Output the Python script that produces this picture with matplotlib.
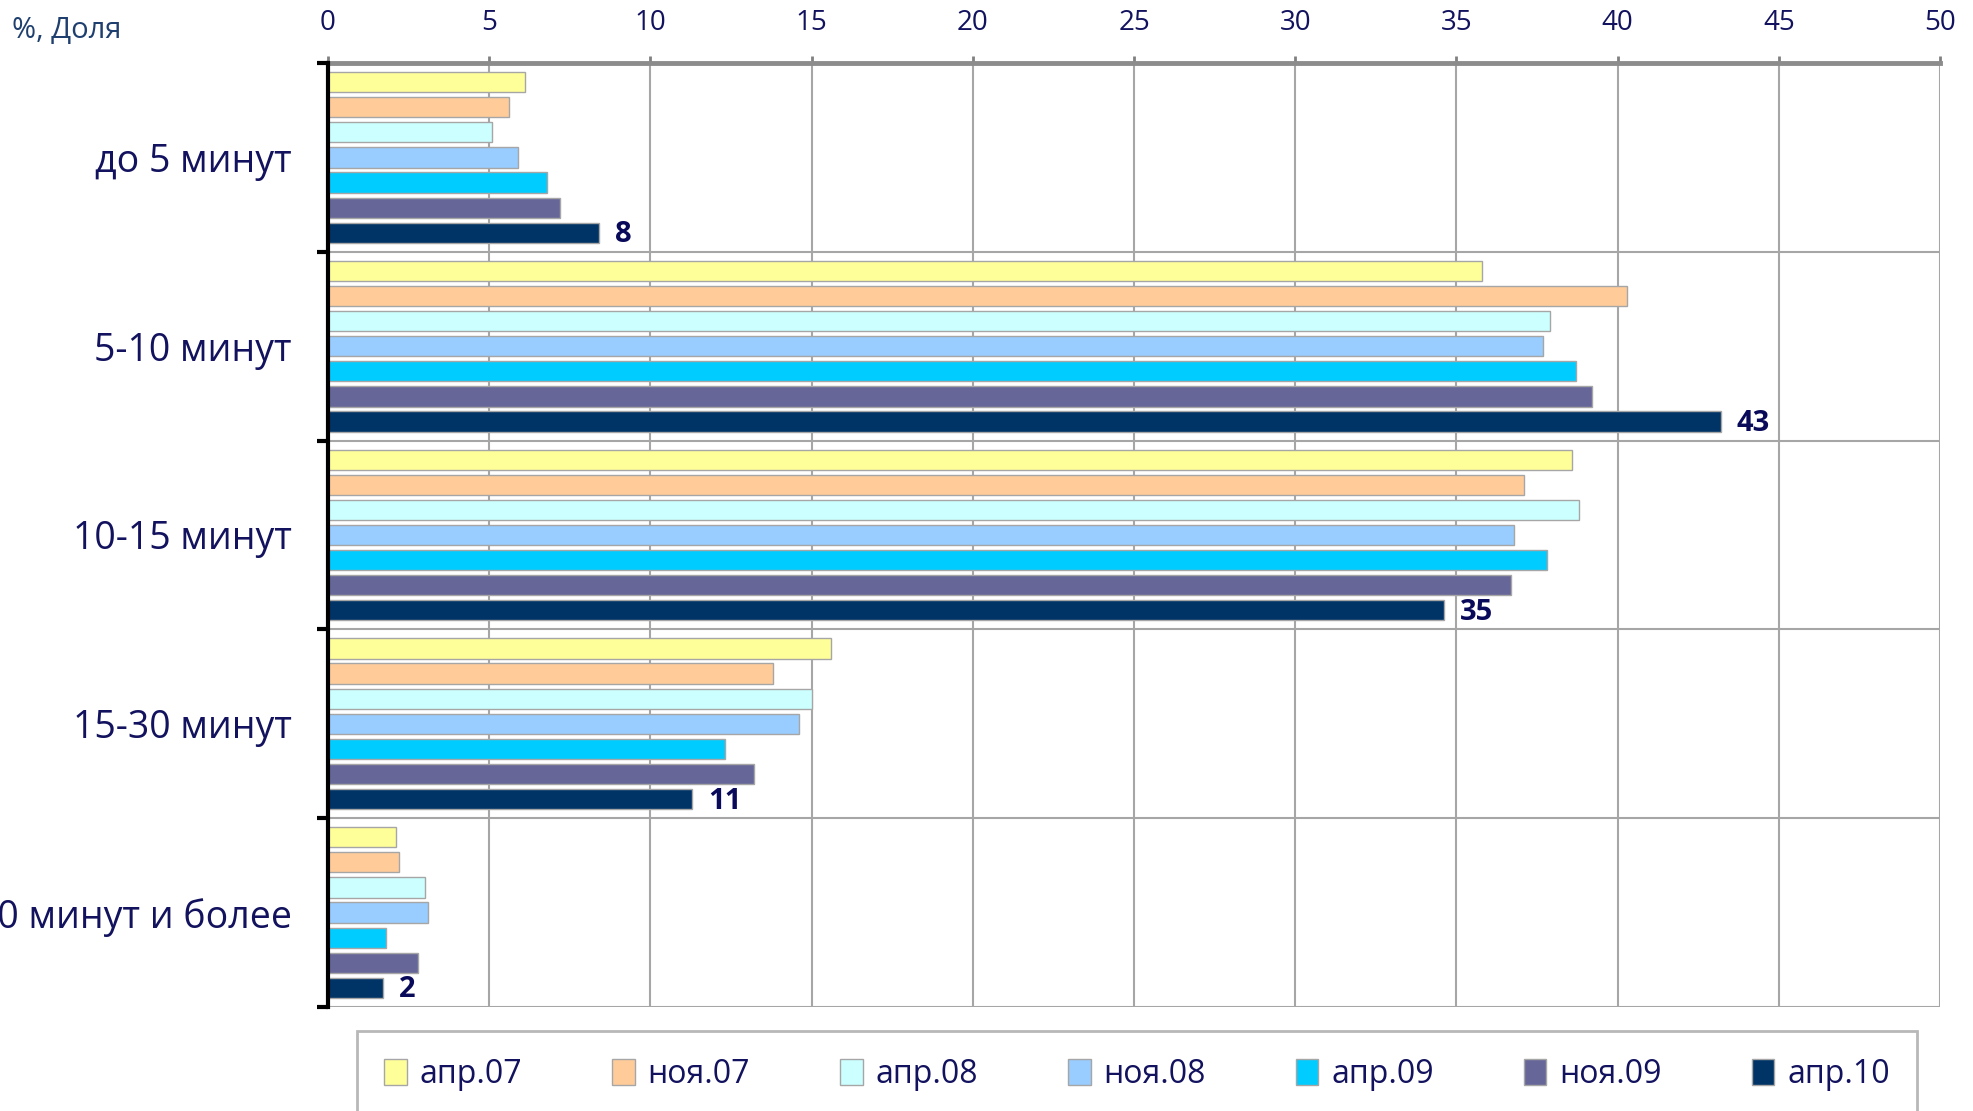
import numpy as np
import matplotlib.pyplot as plt

plt.rcParams['font.family'] = ['Open Sans', 'DejaVu Sans']

# categories (top to bottom) and survey waves
categories = ["до 5 минут", "5-10 минут", "10-15 минут", "15-30 минут", "30 минут и более"]
series_names = ["апр.07", "ноя.07", "апр.08", "ноя.08", "апр.09", "ноя.09", "апр.10"]

apr07 = [6.1, 35.8, 38.6, 15.6, 2.1]
nov07 = [5.6, 40.3, 37.1, 13.8, 2.2]
apr08 = [5.1, 37.9, 38.8, 15.0, 3.0]
nov08 = [5.9, 37.7, 36.8, 14.6, 3.1]
apr09 = [6.8, 38.7, 37.8, 12.3, 1.8]
nov09 = [7.2, 39.2, 36.7, 13.2, 2.8]
apr10 = [8.4, 43.2, 34.6, 11.3, 1.7]

series = [apr07, nov07, apr08, nov08, apr09, nov09, apr10]
colors = ["#FFFF99", "#FFCC99", "#CCFFFF", "#99CCFF", "#00CCFF", "#666699", "#003366"]
text_col = "#12125E"

fig = plt.figure(figsize=(19.74, 11.11), dpi=100)
ax = fig.add_axes([328 / 1974, 1 - 1007 / 1111, (1940 - 328) / 1974, (1007 - 63) / 1111])

n_cat = len(categories)
n_ser = len(series)
step = 0.133
bar_h = 0.107
centers = np.arange(n_cat) + 0.5

for j, (vals, col, name) in enumerate(zip(series, colors, series_names)):
    ypos = centers + (j - (n_ser - 1) / 2) * step
    ax.barh(ypos, vals, height=bar_h, color=col, edgecolor="#A6A6A6", linewidth=1,
            label=name, zorder=3)
    if j == n_ser - 1:
        for y, v in zip(ypos, vals):
            ax.text(v + 0.5, y + 0.01, f"{v:.0f}", ha="left", va="center",
                    fontsize=21, fontweight="bold", color="#0A0A5A", zorder=4)

ax.set_xlim(0, 50)
ax.set_ylim(n_cat, 0)

# x axis on top
ax.xaxis.tick_top()
ax.set_xticks(np.arange(0, 51, 5))
ax.tick_params(axis="x", colors="#808080", length=5, width=2, pad=14,
               labelsize=20, labelcolor=text_col)

# y axis: ticks at group boundaries, labels at centres
ax.set_yticks(np.arange(n_cat + 1))
ax.set_yticklabels([])
ax.set_yticks(centers, minor=True)
ax.set_yticklabels(categories, minor=True, fontsize=27, color=text_col)
ax.tick_params(axis="y", which="major", length=8, width=3, color="black")
ax.tick_params(axis="y", which="minor", length=0, pad=26)

# grid
for x in np.arange(5, 51, 5):
    ax.axvline(x, color="#A6A6A6", lw=1.5, zorder=1)
for y in range(1, n_cat + 1):
    ax.axhline(y, color="#A6A6A6", lw=1.5, zorder=1)

for side in ["right", "bottom"]:
    ax.spines[side].set_visible(False)
ax.spines["top"].set_color("#8C8C8C")
ax.spines["top"].set_linewidth(3.5)
ax.spines["left"].set_color("black")
ax.spines["left"].set_linewidth(3)
ax.spines["left"].set_zorder(5)

fig.text(12 / 1974, 1 - 30 / 1111, "%, Доля", fontsize=21, color="#1F3F6F",
         ha="left", va="center")

leg = fig.legend(loc="upper left",
                 bbox_to_anchor=(357 / 1974, 1 - 1032 / 1111, (1917 - 357) / 1974, 0.001),
                 mode="expand", ncol=n_ser, fontsize=23, frameon=True, fancybox=False,
                 edgecolor="#A6A6A6", handlelength=0.7, handleheight=0.9,
                 handletextpad=0.4, borderpad=0.85, borderaxespad=0)
leg.get_frame().set_linewidth(2)
for t in leg.get_texts():
    t.set_color(text_col)

fig.savefig("out.png", dpi=100)
